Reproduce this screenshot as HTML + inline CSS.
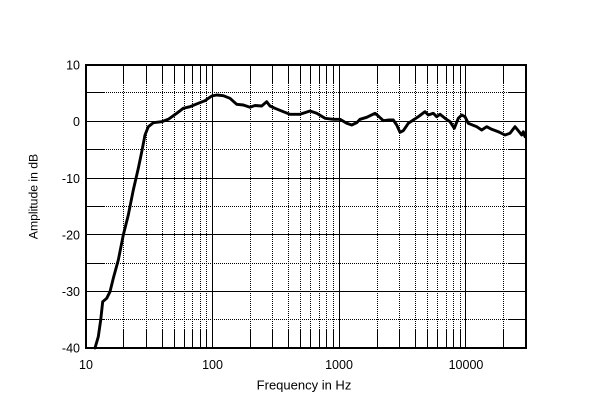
<!DOCTYPE html>
<html><head><meta charset="utf-8"><style>
html,body{margin:0;padding:0;background:#fff;}
svg{display:block;}
text{font-family:"Liberation Sans",Arial,sans-serif;fill:#000;}
</style></head><body>
<svg width="600" height="417" viewBox="0 0 600 417" xmlns="http://www.w3.org/2000/svg">
<rect width="600" height="417" fill="#fff"/>
<!-- dotted minor verticals -->
<g stroke="#000" stroke-width="1" stroke-dasharray="1,1" fill="none">
<path d="M123.5 83V330 M146.5 83V330 M162.5 83V330 M174.5 83V330 M184.5 83V330 M192.5 83V330 M200.5 83V330 M206.5 83V330
M250.5 83V330 M272.5 83V330 M288.5 83V330 M300.5 83V330 M310.5 83V330 M319.5 83V330 M326.5 83V330 M333.5 83V330
M377.5 83V330 M399.5 83V330 M415.5 83V330 M427.5 83V330 M437.5 83V330 M446.5 83V330 M453.5 83V330 M460.5 83V330
M503.5 83V330"/>
<path d="M104 92.5H508 M104 149.5H508 M104 206.5H508 M104 263.5H508 M104 319.5H508"/>
</g>
<!-- solid tick parts -->
<g stroke="#000" stroke-width="1" fill="none">
<path d="M123.5 65V83 M146.5 65V83 M162.5 65V83 M174.5 65V83 M184.5 65V83 M192.5 65V83 M200.5 65V83 M206.5 65V83
M250.5 65V83 M272.5 65V83 M288.5 65V83 M300.5 65V83 M310.5 65V83 M319.5 65V83 M326.5 65V83 M333.5 65V83
M377.5 65V83 M399.5 65V83 M415.5 65V83 M427.5 65V83 M437.5 65V83 M446.5 65V83 M453.5 65V83 M460.5 65V83
M503.5 65V83"/>
<path d="M123.5 330V348 M146.5 330V348 M162.5 330V348 M174.5 330V348 M184.5 330V348 M192.5 330V348 M200.5 330V348 M206.5 330V348
M250.5 330V348 M272.5 330V348 M288.5 330V348 M300.5 330V348 M310.5 330V348 M319.5 330V348 M326.5 330V348 M333.5 330V348
M377.5 330V348 M399.5 330V348 M415.5 330V348 M427.5 330V348 M437.5 330V348 M446.5 330V348 M453.5 330V348 M460.5 330V348
M503.5 330V348"/>
<path d="M86 92.5H104 M86 149.5H104 M86 206.5H104 M86 263.5H104 M86 319.5H104
M508 92.5H526 M508 149.5H526 M508 206.5H526 M508 263.5H526 M508 319.5H526"/>
<!-- major grid -->
<path d="M212.5 65V348 M339.5 65V348 M465.5 65V348"/>
<path d="M86 121.5H526 M86 178.5H526 M86 234.5H526 M86 291.5H526"/>
</g>
<rect x="86" y="65" width="440" height="283" fill="none" stroke="#000" stroke-width="2"/>
<!-- curve -->
<polyline fill="none" stroke="#000" stroke-width="2.9" stroke-linejoin="round" stroke-linecap="round" points="95,348 98.3,336.7 100.7,320 102.7,301.7 106.7,298.3 110,291.7 113.3,278.3 118.3,260 123.3,235 128.3,215 133.3,190 138.3,168.3 141.7,152 145,135 148.3,126.7 153.3,122.7 161.7,121.7 168.3,119.3 176.7,113.3 183.3,108.3 190,106.7 198.3,103.3 205,100.7 211.7,96 216.7,95 223.3,95.7 230,98.3 236.7,104.3 243.3,105 250,107.3 255,105.5 261.7,106 266.7,101.7 270,106 275,108.3 283.3,111.7 290,114.3 300,114.3 310,111 316.7,113.3 325,118.3 333.3,119.3 340,119.3 346.7,123.3 351.7,125 356.7,122.7 360,119.3 366.7,117.3 375,113.3 378.3,116 383.3,120.7 388.3,120 393.3,120 396.7,125 400,132.3 403.3,130.7 408.3,123.3 413.3,120 418.3,116.7 425,111.7 428.3,115 433.3,113.3 436.7,116.7 440,114.3 445,118.3 450,121.7 454.3,128.3 458.3,118.3 461.7,115 465,116.7 468.3,123.3 476.7,126.7 481.7,130 486.7,126.7 491.7,129.3 498.3,131.7 505,135 510,133.3 515,126.7 518.3,130.7 521.7,135 523.3,131.7 525,136.7"/>
<!-- y labels -->
<g font-size="12.5" text-anchor="end">
<text x="80" y="69.5">10</text>
<text x="80" y="126">0</text>
<text x="80" y="183">-10</text>
<text x="80" y="239.5">-20</text>
<text x="80" y="296">-30</text>
<text x="80" y="352.5">-40</text>
</g>
<!-- x labels -->
<g font-size="12.5" text-anchor="middle">
<text x="86" y="369">10</text>
<text x="212.5" y="369">100</text>
<text x="339" y="369">1000</text>
<text x="466" y="369">10000</text>
</g>
<text x="304" y="389.5" font-size="13" text-anchor="middle">Frequency in Hz</text>
<text transform="translate(37.5,196.5) rotate(-90)" font-size="12.2" text-anchor="middle">Amplitude in dB</text>
</svg>
</body></html>
